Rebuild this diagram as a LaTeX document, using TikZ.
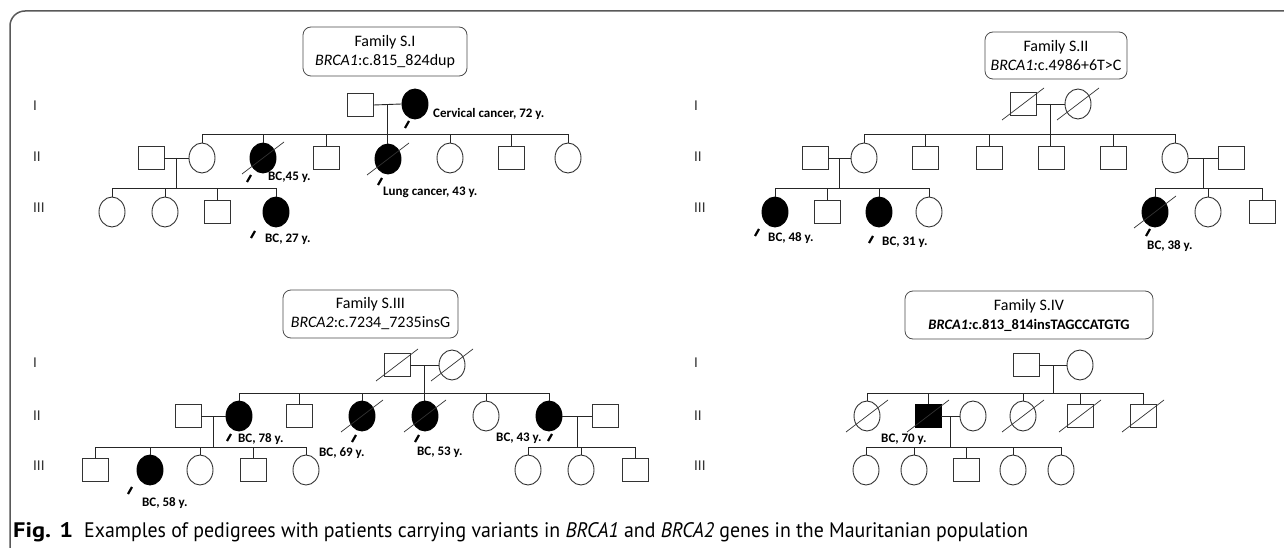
\documentclass[tikz,border=0pt]{standalone}
\usepackage{fontspec}
\setmainfont{Carlito}
\newfontfamily\capfont{PT Sans}
\usetikzlibrary{shapes.geometric,calc}
\newcommand\dec[1]{\draw[slash] ($(#1)+(-21,16)$) -- ($(#1)+(21,-16)$);}
\newcommand\prb[3]{\draw[prob] ($(#1)+(#2,#3)$) -- ++(4,-7);}
\begin{document}
\begin{tikzpicture}[x=1pt,y=-1pt,
  ln/.style={draw=black!85, line width=0.9pt},
  male/.style={rectangle, draw=black!80, line width=0.9pt, minimum width=26pt, minimum height=23pt, inner sep=0pt, fill=white},
  female/.style={ellipse, draw=black!80, line width=0.9pt, minimum width=26pt, minimum height=30pt, inner sep=0pt, fill=white},
  aff/.style={fill=black, draw=black},
  slash/.style={draw=black!80, line width=0.7pt},
  prob/.style={draw=black, line width=2.2pt},
  lab/.style={anchor=west, inner sep=0pt, font=\bfseries\fontsize{13}{15}\selectfont},
  gen/.style={anchor=west, inner sep=0pt, text=black!80, font=\fontsize{15}{17}\selectfont},
  fam/.style={draw=black!70, line width=0.8pt, rounded corners=8pt, align=center, inner sep=0pt, font=\fontsize{16}{19}\selectfont},
  capt/.style={anchor=base west, inner sep=0pt, font=\capfont\fontsize{21}{25}\selectfont}
]
\useasboundingbox (0,0) rectangle (1284,548);
\fill[white] (0,0) rectangle (1284,548);
% frame
\draw[draw=black!65, line width=1.5pt, rounded corners=15pt] (10,560) -- (10,11) -- (1295,11);

% ---------- Family S.I ----------
\node[fam, minimum width=164pt, minimum height=49pt] (boxA) at (385,51.5) {Family S.I\\\textit{BRCA1}:c.815\_824dup};
\node[gen] (gA1) at (33,106) {I};
\node[gen] (gA2) at (33,157) {II};
\node[gen] (gA3) at (33,208) {III};
\node[male] (A1) at (360,105) {};
\node[female,aff] (A2) at (415,104) {};
\node[male] (B0) at (151,158) {};
\node[female] (B1) at (202,158) {};
\node[female,aff] (B2) at (263,158) {};
\node[male] (B3) at (326,158) {};
\node[female,aff] (B4) at (388,159) {};
\node[female] (B5) at (450,158) {};
\node[male] (B6) at (511,158) {};
\node[female] (B7) at (568,158) {};
\node[female] (C1) at (112,212) {};
\node[female] (C2) at (165,212) {};
\node[male] (C3) at (217,212) {};
\node[female,aff] (C4) at (276,212) {};
\coordinate (sA) at (0,134);
\coordinate (sB) at (0,188);
\draw[ln] (A1.east) -- (A2.west);
\coordinate (mA) at ($(A1.east)!0.5!(A2.west)$);
\draw[ln] (mA) -- (mA |- B4.north);
\draw[ln] (B1.north |- sA) -- (B7.north |- sA);
\foreach \c in {B1,B2,B3,B5,B6,B7} {\draw[ln] (\c.north) -- (\c.north |- sA);}
\draw[ln] (B0.east) -- (B1.west);
\coordinate (mB) at ($(B0.east)!0.5!(B1.west)$);
\draw[ln] (mB) -- (mB |- sB);
\draw[ln] (C1.north |- sB) -- (C4.north |- sB);
\foreach \c in {C1,C2,C3,C4} {\draw[ln] (\c.north) -- (\c.north |- sB);}
\dec{B2} \dec{B4}
\prb{A2}{-10}{24} \prb{B2}{-16}{24} \prb{B4}{-10}{26} \prb{C4}{-25}{26}
\node[lab] (tA2) at (433,114) {Cervical cancer, 72 y.};
\node[lab] (tB2) at (268,177) {BC,45 y.};
\node[lab] (tB4) at (383,192) {Lung cancer, 43 y.};
\node[lab] (tC4) at (265,239) {BC, 27 y.};

% ---------- Family S.II ----------
\node[fam, minimum width=142pt, minimum height=47pt] (boxB) at (1056,55.5) {Family S.II\\\textit{BRCA1:}c.4986+6T>C};
\node[gen] (gB1) at (694,106) {I};
\node[gen] (gB2) at (694,157) {II};
\node[gen] (gB3) at (694,208) {III};
\node[male] (D1) at (1023,104) {};
\node[female] (D2) at (1078,104) {};
\node[male] (E0) at (815,158) {};
\node[female] (E1) at (864,158) {};
\node[male] (E2) at (925,158) {};
\node[male] (E3) at (989,158) {};
\node[male] (E4) at (1051,158) {};
\node[male] (E5) at (1113,158) {};
\node[female] (E6) at (1175,158) {};
\node[male] (E7) at (1231,158) {};
\node[female,aff] (F1) at (775,212) {};
\node[male] (F2) at (827,212) {};
\node[female,aff] (F3) at (879,212) {};
\node[female] (F4) at (929,212) {};
\node[female,aff] (F5) at (1155,212) {};
\node[female] (F6) at (1208,212) {};
\node[male] (F7) at (1262,212) {};
\coordinate (sC) at (0,134);
\coordinate (sD) at (0,188);
\draw[ln] (D1.east) -- (D2.west);
\coordinate (mD) at ($(D1.east)!0.5!(D2.west)$);
\draw[ln] (mD) -- (mD |- E4.north);
\draw[ln] (E1.north |- sC) -- (E6.north |- sC);
\foreach \c in {E1,E2,E3,E5,E6} {\draw[ln] (\c.north) -- (\c.north |- sC);}
\draw[ln] (E0.east) -- (E1.west);
\coordinate (mE) at ($(E0.east)!0.5!(E1.west)$);
\draw[ln] (mE) -- (mE |- sD);
\draw[ln] (F1.north |- sD) -- (F4.north |- sD);
\foreach \c in {F1,F2,F3,F4} {\draw[ln] (\c.north) -- (\c.north |- sD);}
\draw[ln] (E6.east) -- (E7.west);
\coordinate (mF) at ($(E6.east)!0.5!(E7.west)$);
\draw[ln] (mF) -- (mF |- sD);
\draw[ln] (F5.north |- sD) -- (F7.north |- sD);
\foreach \c in {F5,F6,F7} {\draw[ln] (\c.north) -- (\c.north |- sD);}
\dec{D1} \dec{D2} \dec{F5}
\prb{F1}{-20}{24} \prb{F3}{-10}{31} \prb{F5}{-9}{24}
\node[lab] (tF1) at (768,238) {BC, 48 y.};
\node[lab] (tF3) at (882,242) {BC, 31 y.};
\node[lab] (tF5) at (1147,246) {BC, 38 y.};

% ---------- Family S.III ----------
\node[fam, minimum width=175pt, minimum height=48pt] (boxC) at (370.5,314) {Family S.III\\\textit{BRCA2}:c.7234\_7235insG};
\node[gen] (gC1) at (33,363) {I};
\node[gen] (gC2) at (33,416) {II};
\node[gen] (gC3) at (33,466) {III};
\node[male] (G1) at (397,365) {};
\node[female] (G2) at (452,365) {};
\node[male] (H0) at (188,416) {};
\node[female,aff] (H1) at (239,416) {};
\node[male] (H2) at (299,416) {};
\node[female,aff] (H3) at (362,416) {};
\node[female,aff] (H4) at (425,416) {};
\node[female] (H5) at (486,416) {};
\node[female,aff] (H6) at (549,416) {};
\node[male] (H7) at (605,416) {};
\node[male] (I1) at (95,470) {};
\node[female,aff] (I2) at (150,470) {};
\node[female] (I3) at (200,470) {};
\node[male] (I4) at (253,470) {};
\node[female] (I5) at (306,470) {};
\node[female] (I6) at (528,470) {};
\node[female] (I7) at (581,470) {};
\node[male] (I8) at (635,470) {};
\coordinate (sE) at (0,393);
\coordinate (sF) at (0,447);
\draw[ln] (G1.east) -- (G2.west);
\coordinate (mG) at ($(G1.east)!0.5!(G2.west)$);
\draw[ln] (mG) -- (mG |- H4.north);
\draw[ln] (H1.north |- sE) -- (H6.north |- sE);
\foreach \c in {H1,H2,H3,H5,H6} {\draw[ln] (\c.north) -- (\c.north |- sE);}
\draw[ln] (H0.east) -- (H1.west);
\coordinate (mH) at ($(H0.east)!0.5!(H1.west)$);
\draw[ln] (mH) -- (mH |- sF);
\draw[ln] (I1.north |- sF) -- (I5.north |- sF);
\foreach \c in {I1,I2,I3,I4,I5} {\draw[ln] (\c.north) -- (\c.north |- sF);}
\draw[ln] (H6.east) -- (H7.west);
\coordinate (mI) at ($(H6.east)!0.5!(H7.west)$);
\draw[ln] (mI) -- (mI |- sF);
\draw[ln] (I6.north |- sF) -- (I8.north |- sF);
\foreach \c in {I6,I7,I8} {\draw[ln] (\c.north) -- (\c.north |- sF);}
\dec{G1} \dec{G2} \dec{H3} \dec{H4}
\prb{H1}{-12}{25} \prb{H3}{-10}{26} \prb{H4}{-10}{26} \prb{H6}{-1}{25} \prb{I2}{-22}{24}
\node[lab] (tH1) at (238,439) {BC, 78 y.};
\node[lab] (tH3) at (319,453) {BC, 69 y.};
\node[lab] (tH4) at (417,452) {BC, 53 y.};
\node[lab] (tH6) at (496,438) {BC, 43 y.};
\node[lab] (tI2) at (142,503) {BC, 58 y.};

% ---------- Family S.IV ----------
\node[fam, minimum width=248pt, minimum height=48pt] (boxD) at (1029,315) {Family S.IV\\{\fontsize{14.5}{17}\selectfont\bfseries\textit{BRCA1:}c.813\_814insTAGCCATGTG}};
\node[gen] (gD1) at (694,363) {I};
\node[gen] (gD2) at (694,416) {II};
\node[gen] (gD3) at (694,466) {III};
\node[male] (J1) at (1026,365) {};
\node[female] (J2) at (1080,365) {};
\node[female] (K1) at (867,416) {};
\node[male,aff] (K2) at (928,416) {};
\node[female] (K3) at (973,416) {};
\node[female] (K4) at (1023,416) {};
\node[male] (K5) at (1080,416) {};
\node[male] (K6) at (1143,416) {};
\node[female] (L1) at (866,470) {};
\node[female] (L2) at (914,470) {};
\node[male] (L3) at (966,470) {};
\node[female] (L4) at (1013,470) {};
\node[female] (L5) at (1061,470) {};
\coordinate (sG) at (0,393);
\coordinate (sH) at (0,447);
\draw[ln] (J1.east) -- (J2.west);
\coordinate (mJ) at ($(J1.east)!0.5!(J2.west)$);
\draw[ln] (mJ) -- (mJ |- sG);
\draw[ln] (K1.north |- sG) -- (K6.north |- sG);
\foreach \c in {K1,K2,K4,K5,K6} {\draw[ln] (\c.north) -- (\c.north |- sG);}
\draw[ln] (K2.east) -- (K3.west);
\coordinate (mK) at ($(K2.east)!0.5!(K3.west)$);
\draw[ln] (mK) -- (mK |- sH);
\draw[ln] (L1.north |- sH) -- (L5.north |- sH);
\foreach \c in {L1,L2,L3,L4,L5} {\draw[ln] (\c.north) -- (\c.north |- sH);}
\dec{K1} \dec{K2} \dec{K4} \dec{K5} \dec{K6}
\node[lab] (tK2) at (881,439) {BC, 70 y.};

% ---------- caption ----------
\node[capt, font=\capfont\bfseries\fontsize{21}{25}\selectfont] (capA) at (13,537) {\resizebox{60pt}{\height}{Fig. 1}};
\node[capt] (capB) at (84,537) {\resizebox{944pt}{\height}{Examples of pedigrees with patients carrying variants in \textit{BRCA1} and \textit{BRCA2} genes in the Mauritanian population}};
\end{tikzpicture}
\end{document}
